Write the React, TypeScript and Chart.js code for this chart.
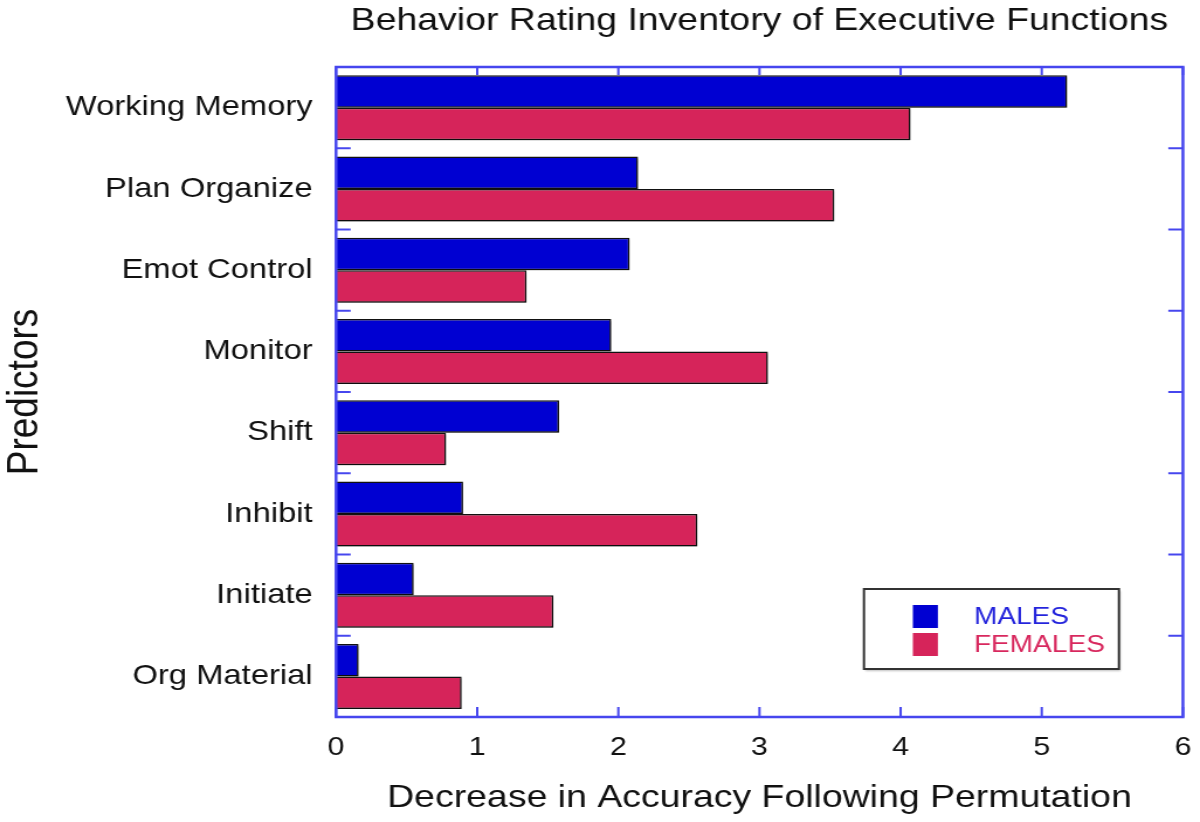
import React, { useEffect, useRef } from 'react';
import { Chart, registerables } from 'chart.js';

Chart.register(...registerables);

const categories = [
  'Working Memory',
  'Plan Organize',
  'Emot Control',
  'Monitor',
  'Shift',
  'Inhibit',
  'Initiate',
  'Org Material',
];
const males = [5.18, 2.14, 2.08, 1.95, 1.58, 0.9, 0.55, 0.16];
const females = [4.07, 3.53, 1.35, 3.06, 0.78, 2.56, 1.54, 0.89];
const xTickValues = [0, 1, 2, 3, 4, 5, 6];
const seriesLabels = ['MALES', 'FEMALES'];

// drawing is done on a narrower canvas and stretched by css, like the source image
const DRAW_W = 1026;
const DRAW_H = 822;
const FONT = '"Liberation Sans", Arial, sans-serif';
const AXIS_BLUE = '#4646ee';
const MALE_FILL = '#0000d2';
const FEMALE_FILL = '#d6245a';
const MALE_TEXT = '#2424dc';
const FEMALE_TEXT = '#d8285e';

const line = (ctx: CanvasRenderingContext2D, x1: number, y1: number, x2: number, y2: number) => {
  ctx.beginPath();
  ctx.moveTo(x1, y1);
  ctx.lineTo(x2, y2);
  ctx.stroke();
};

const framePlugin = {
  id: 'frame',
  beforeDatasetsDraw(chart: any) {
    const { ctx } = chart;
    ctx.save();
    ctx.shadowColor = 'rgba(0,0,0,0.3)';
    ctx.shadowOffsetX = 1.5;
    ctx.shadowOffsetY = 2;
    ctx.shadowBlur = 2;
  },
  afterDatasetsDraw(chart: any) {
    const { ctx, chartArea: a, scales } = chart;
    ctx.restore();
    ctx.save();
    ctx.strokeStyle = AXIS_BLUE;
    ctx.lineWidth = 2.5;
    ctx.strokeRect(a.left, a.top, a.right - a.left, a.bottom - a.top);
    ctx.lineWidth = 2;
    // x ticks, bottom and mirrored top, pointing inwards
    xTickValues.forEach((v) => {
      const px = scales.x.getPixelForValue(v);
      line(ctx, px, a.bottom, px, a.bottom - 10);
      line(ctx, px, a.top, px, a.top + 8);
    });
    // y ticks at category boundaries, left and right
    for (let i = 0; i <= categories.length; i++) {
      const py = scales.y.getPixelForValue(i - 0.5);
      line(ctx, a.left, py, a.left + 12.5, py);
      line(ctx, a.right, py, a.right - 12.5, py);
    }
    ctx.restore();
  },
  afterDraw(chart: any) {
    const { ctx, chartArea: a } = chart;
    const w = 218;
    const h = 80;
    const right = a.right - 54.7;
    const bottom = a.bottom - 48;
    const left = right - w;
    const top = bottom - h;
    ctx.save();
    ctx.fillStyle = '#ffffff';
    ctx.shadowColor = 'rgba(0,0,0,0.25)';
    ctx.shadowOffsetX = 1;
    ctx.shadowOffsetY = 1.5;
    ctx.shadowBlur = 2;
    ctx.fillRect(left, top, w, h);
    ctx.shadowColor = 'transparent';
    ctx.strokeStyle = '#333333';
    ctx.lineWidth = 2;
    ctx.strokeRect(left, top, w, h);
    const fills = [MALE_FILL, FEMALE_FILL];
    const texts = [MALE_TEXT, FEMALE_TEXT];
    ctx.font = `24px ${FONT}`;
    ctx.textBaseline = 'middle';
    ctx.textAlign = 'left';
    seriesLabels.forEach((lbl, i) => {
      const cy = top + 27.5 + i * 28;
      ctx.fillStyle = fills[i];
      ctx.fillRect(left + 41.8, cy - 11.5, 21.4, 23);
      ctx.fillStyle = texts[i];
      ctx.fillText(lbl, left + 94, cy + 1);
    });
    ctx.restore();
  },
};

const App: React.FC = () => {
  const canvasRef = useRef<HTMLCanvasElement>(null);
  const chartInstance = useRef<Chart | null>(null);

  useEffect(() => {
    if (!canvasRef.current) return;
    if (chartInstance.current) chartInstance.current.destroy();

    chartInstance.current = new Chart(canvasRef.current, {
      type: 'bar',
      data: {
        labels: categories,
        datasets: [
          {
            label: seriesLabels[0],
            data: males,
            backgroundColor: MALE_FILL,
            borderColor: '#111111',
            borderWidth: 1.5,
            categoryPercentage: 0.8,
            barPercentage: 1,
          },
          {
            label: seriesLabels[1],
            data: females,
            backgroundColor: FEMALE_FILL,
            borderColor: '#111111',
            borderWidth: 1.5,
            categoryPercentage: 0.8,
            barPercentage: 1,
          },
        ],
      },
      options: {
        indexAxis: 'y',
        responsive: false,
        animation: false,
        devicePixelRatio: 1,
        layout: { padding: { left: 0, right: 14.6, top: 0, bottom: 0 } },
        plugins: {
          legend: { display: false },
          tooltip: { enabled: false },
          title: {
            display: true,
            text: 'Behavior Rating Inventory of Executive Functions',
            fullSize: false,
            color: '#111111',
            font: { family: FONT, size: 32, weight: 'normal', lineHeight: 1.2 },
            padding: { top: 2, bottom: 26.6 },
          },
        },
        scales: {
          x: {
            type: 'linear',
            min: 0,
            max: 6,
            grid: { display: false, drawTicks: false },
            border: { display: false },
            ticks: {
              stepSize: 1,
              color: '#111111',
              padding: 15,
              font: { family: FONT, size: 26 },
            },
            title: {
              display: true,
              text: 'Decrease in Accuracy Following Permutation',
              color: '#111111',
              font: { family: FONT, size: 32, lineHeight: 1.2 },
              padding: { top: 0, bottom: 4.8 },
            },
            afterFit: (scale: any) => {
              scale.height = 105;
              scale.paddingLeft = 0;
              scale.paddingRight = 0;
            },
          },
          y: {
            grid: { display: false, drawTicks: false },
            border: { display: false },
            ticks: {
              autoSkip: false,
              color: '#111111',
              padding: 20,
              font: { family: FONT, size: 28 },
            },
            title: {
              display: true,
              text: 'Predictors',
              color: '#111111',
              font: { family: FONT, size: 37, lineHeight: 1.2 },
              padding: 0,
            },
            afterFit: (scale: any) => {
              scale.width = 287.3;
              scale.paddingTop = 0;
              scale.paddingBottom = 0;
            },
          },
        },
      },
      plugins: [framePlugin],
    });

    return () => {
      if (chartInstance.current) {
        chartInstance.current.destroy();
        chartInstance.current = null;
      }
    };
  }, []);

  return (
    <div style={{ position: 'fixed', left: 0, top: 0, width: 1200, height: 822, background: '#ffffff' }}>
      <canvas
        ref={canvasRef}
        width={DRAW_W}
        height={DRAW_H}
        style={{ width: '1200px', height: '822px', display: 'block' }}
      />
    </div>
  );
};

export default App;
